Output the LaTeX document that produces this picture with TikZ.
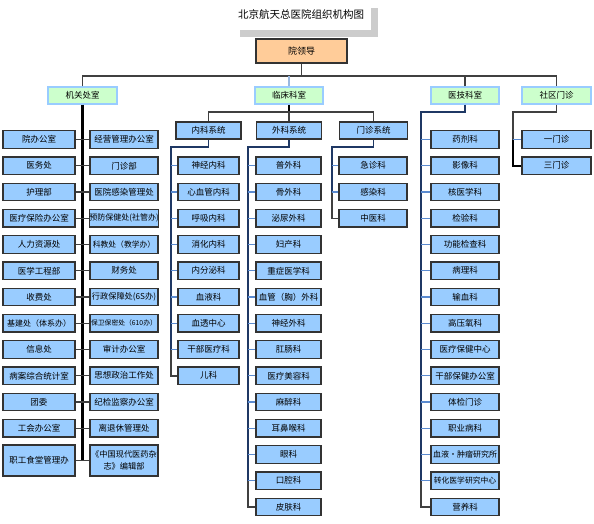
\documentclass[tikz,border=0pt]{standalone}
\usepackage{fontspec}
\setmainfont{Noto Sans CJK SC}
\definecolor{boxfill}{HTML}{99CCFF}
\definecolor{boxline}{HTML}{333333}
\definecolor{topfill}{HTML}{FFCC99}
\definecolor{grpfill}{HTML}{CCFFCC}
\definecolor{grpline}{HTML}{99CCFF}
\definecolor{spinec}{HTML}{1F3864}
\definecolor{stubc}{HTML}{5B8BD0}
\definecolor{barc}{HTML}{404040}
\definecolor{lightc}{HTML}{99B8E0}
\definecolor{shadowc}{HTML}{CCCCCC}
\begin{document}
\begin{tikzpicture}[x=1pt,y=-1pt,
  box/.style={draw=boxline, line width=1.2pt, fill=boxfill, inner sep=0pt,
    minimum height=17.5pt, align=center, font=\fontsize{8.5}{10}\selectfont},
  grp/.style={draw=grpline, line width=1.2pt, fill=grpfill, inner sep=0pt,
    minimum height=17pt, minimum width=69pt, font=\fontsize{8.5}{10}\selectfont},
  sys/.style={box, minimum height=17pt},
  bar/.style={draw=barc, line width=1.3pt},
  spine/.style={draw=spinec, line width=1.6pt},
  stub/.style={draw=stubc, line width=1.2pt},
  pair/.style={draw=barc, line width=1.3pt},
  jgspine/.style={draw=black, line width=2.2pt},
  endl/.style={draw=barc, line width=1.5pt},
]
\useasboundingbox (0,0) rectangle (594,523);
% title
\fill[shadowc] (240,8) rectangle (378,37);
\fill[white] (234,0) rectangle (371,30);
\node[font=\fontsize{10.5}{12}\selectfont] (title) at (301,14) {北京航天总医院组织机构图};
% leader
\node[draw=boxline, line width=1.8pt, fill=topfill, minimum width=91pt, minimum height=24pt,
  inner sep=0pt, font=\fontsize{9}{10}\selectfont] (ld) at (301.5,51) {院领导};
\coordinate (bar) at (0,76);
\coordinate (bar2) at (0,112);
% groups
\node[grp] (jg) at (82.5,95.5) {机关处室};
\node[grp, minimum width=68pt] (lc) at (289,95.5) {临床科室};
\node[grp, minimum width=68pt] (yj) at (465,95.5) {医技科室};
\node[grp] (sq) at (556.5,95.5) {社区门诊};
% systems
\node[sys, minimum width=65pt] (nk) at (208.5,130.5) {内科系统};
\node[sys, minimum width=65pt] (wk) at (289,130.5) {外科系统};
\node[sys, minimum width=68pt] (mz) at (373.5,130.5) {门诊系统};
% top connectors
\draw[bar] (ld.south) -- (ld.south |- bar);
\draw[bar] (jg.north) -- (jg.north |- bar) -- (sq.north |- bar) -- (sq.north);
\draw[bar] (yj.north) -- (yj.north |- bar);
\draw[draw=lightc, line width=1.4pt] (lc.north) -- (lc.north |- bar);
\draw[draw=black, line width=1.6pt] (lc.south) -- (lc.south |- bar2);
\draw[bar] (nk.north) -- (nk.north |- bar2) -- (mz.north |- bar2) -- (mz.north);
\draw[bar] (wk.north) -- (wk.north |- bar2);
% left column (机关处室)
\foreach \t [count=\i from 0] in {院办公室,医务处,护理部,医疗保险办公室,人力资源处,医学工程部,收费处,
  {\fontsize{8}{9}\selectfont 基建处（体系办）},信息处,病案综合统计室,团委,工会办公室}
  \node[box, minimum width=72pt] (L\i) at (39,{139.5+26.25*\i}) {\t};
\node[box, minimum width=72pt, minimum height=31pt] (L12) at (39,460.5) {职工食堂管理办};
\foreach \t [count=\i from 0] in {经营管理办公室,门诊部,医院感染管理处,
  {\fontsize{8}{9}\selectfont 预防保健处(社管办)},{\fontsize{7.8}{9}\selectfont 科教处（教学办）},财务处,
  {\fontsize{8.2}{9}\selectfont 行政保障处(6S办)},{\fontsize{6.8}{9}\selectfont 保卫保密处（610办）},
  审计办公室,思想政治工作处,纪检监察办公室,离退休管理处}
  \node[box, minimum width=68pt] (R\i) at (124,{139.5+26.25*\i}) {\t};
\node[box, minimum width=68pt, minimum height=31pt, font=\fontsize{8.2}{12}\selectfont] (R12) at (124,460.5) {《中国现代医药杂\\志》编辑部};
\draw[jgspine] (jg.south) -- (jg.south |- L12.east);
\foreach \i in {0,...,12}
  \draw[pair] (L\i.east) -- (R\i.west);
% 内科系统
\foreach \t [count=\i from 0] in {神经内科,心血管内科,呼吸内科,消化内科,内分泌科,血液科,血透中心,干部医疗科,儿科}
  \node[box, minimum width=61pt] (N\i) at (208.5,{165.75+26.25*\i}) {\t};
\coordinate (nkx) at (171,147);
\draw[spine] (nk.south) |- (nkx) -- (nkx |- N7.west);
\draw[endl] (nkx |- N7.west) |- (N8.west);
\foreach \i in {0,...,7}
  \draw[stub] (nkx |- N\i.west) -- (N\i.west);
% 外科系统
\foreach \t [count=\i from 0] in {普外科,骨外科,泌尿外科,妇产科,重症医学科,血管（胸）外科,神经外科,肛肠科,
  医疗美容科,麻醉科,耳鼻喉科,眼科,口腔科,皮肤科}
  \node[box, minimum width=65pt] (W\i) at (288.5,{165.75+26.25*\i}) {\t};
\coordinate (wkx) at (248,147);
\draw[spine] (wk.south) |- (wkx) -- (wkx |- W12.west);
\draw[endl] (wkx |- W12.west) |- (W13.west);
\foreach \i in {0,...,12}
  \draw[stub] (wkx |- W\i.west) -- (W\i.west);
% 门诊系统
\foreach \t [count=\i from 0] in {急诊科,感染科,中医科}
  \node[box, minimum width=68pt] (M\i) at (373,{165.75+26.25*\i}) {\t};
\coordinate (mzx) at (332,147);
\draw[spine] (mz.south) |- (mzx) -- (mzx |- M1.west);
\draw[endl] (mzx |- M1.west) |- (M2.west);
\foreach \i in {0,1}
  \draw[stub] (mzx |- M\i.west) -- (M\i.west);
% 医技科室
\foreach \t [count=\i from 0] in {药剂科,影像科,核医学科,检验科,功能检查科,病理科,输血科,高压氧科,医疗保健中心,
  干部保健办公室,体检门诊,职业病科,{\fontsize{8}{9}\selectfont 血液·肿瘤研究所},
  {\fontsize{7.8}{9}\selectfont 转化医学研究中心},营养科}
  \node[box, minimum width=68pt] (Y\i) at (465,{139.5+26.25*\i}) {\t};
\coordinate (yjx) at (421,112);
\draw[spine] (yj.south) |- (yjx) -- (yjx |- Y13.west);
\draw[endl] (yjx |- Y13.west) |- (Y14.west);
\foreach \i in {0,...,13}
  \draw[stub] (yjx |- Y\i.west) -- (Y\i.west);
% 社区门诊
\foreach \t [count=\i from 0] in {一门诊,三门诊}
  \node[box, minimum width=69pt] (S\i) at (556.5,{139.5+26.25*\i}) {\t};
\coordinate (sqx) at (513,112);
\draw[endl] (sq.south) |- (sqx) -- (sqx |- S0.west);
\draw[draw=black, line width=1.5pt] (sqx |- S0.west) |- (S1.west);
\draw[stub] (sqx |- S0.west) -- (S0.west);
\end{tikzpicture}
\end{document}
